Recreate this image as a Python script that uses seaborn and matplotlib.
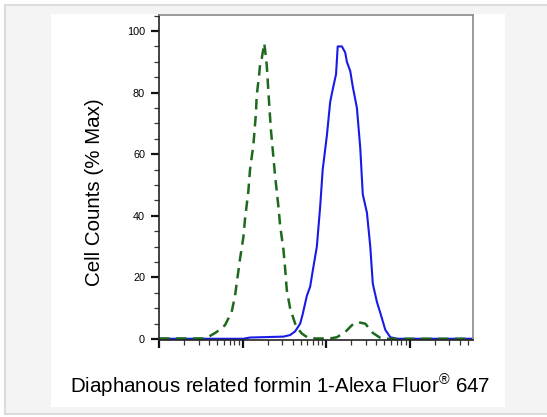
import numpy as np
import pandas as pd
import matplotlib
matplotlib.use("Agg")
import matplotlib.pyplot as plt
import matplotlib.ticker as mticker
from matplotlib.patches import Rectangle
import seaborn as sns

control_log = [1.00, 1.31, 1.55, 1.61, 1.69, 1.79, 1.87, 1.91, 1.95, 1.97,
               2.01, 2.03, 2.07, 2.09, 2.13, 2.16, 2.17, 2.20, 2.21, 2.23,
               2.26, 2.27, 2.29, 2.32, 2.34, 2.37, 2.39, 2.43, 2.45, 2.49,
               2.51, 2.53, 2.57, 2.63, 2.66, 2.71, 2.78, 2.87, 3.05, 3.13,
               3.23, 3.31, 3.38, 3.47, 3.56, 3.65, 3.71, 4.76]
control_pct = [0.2, 0.2, 0.2, 1.0, 2.3, 4.5, 8.8, 14, 22, 26,
               33, 39, 48, 55, 63, 73, 79, 86, 89, 91,
               96, 94, 89, 76, 68, 59, 53, 43, 37, 29,
               23, 16, 10, 5.0, 3.5, 1.8, 0.5, 0.2, 0.2, 0.6,
               2.3, 4.5, 5.5, 5.0, 2.0, 0.4, 0.1, 0.1]

muestra_log = [1.00, 2.01, 2.09, 2.49, 2.57, 2.63, 2.69, 2.72, 2.77, 2.81,
               2.84, 2.89, 2.93, 2.96, 3.01, 3.05, 3.08, 3.12, 3.14, 3.19,
               3.23, 3.25, 3.29, 3.32, 3.37, 3.41, 3.44, 3.49, 3.53, 3.56,
               3.61, 3.65, 3.71, 3.77, 3.85, 4.76]
muestra_pct = [0.1, 0.1, 0.5, 0.8, 1.3, 2.5, 5.0, 8.0, 14, 17,
               22, 30, 43, 55, 66, 77, 81, 86, 95, 95,
               93, 90, 87, 82, 75, 62, 47, 41, 30, 18,
               12, 8.5, 3.0, 0.6, 0.1, 0.1]

y_ticks = [0, 20, 40, 60, 80, 100]

sns.set_style("ticks")
plt.rcParams['font.family'] = ['Liberation Sans', 'DejaVu Sans']
plt.rcParams['mathtext.fontset'] = 'custom'
plt.rcParams['mathtext.rm'] = 'Liberation Sans'
plt.rcParams['mathtext.default'] = 'regular'

fig = plt.figure(figsize=(5.47, 4.17), dpi=100, facecolor='white')

# Marco gris exterior y panel blanco (detras de los ejes)
fig.patches.append(Rectangle((5 / 547, 3 / 417), 560 / 547, 409 / 417,
                             transform=fig.transFigure, facecolor='#f4f4f4',
                             edgecolor='#dcdcdc', linewidth=1.5, zorder=-3))
fig.patches.append(Rectangle((51 / 547, 10 / 417), 454 / 547, 393 / 417,
                             transform=fig.transFigure, facecolor='white',
                             edgecolor='none', zorder=-2))

ax = fig.add_axes([159 / 547, 1 - 340 / 417, 314 / 547, 325 / 417])
ax.set_facecolor('none')

df_ctrl = pd.DataFrame({'x': 10 ** np.array(control_log), 'y': control_pct})
df_mues = pd.DataFrame({'x': 10 ** np.array(muestra_log), 'y': muestra_pct})

sns.lineplot(data=df_mues, x='x', y='y', ax=ax, color='#1a1ae6',
             linewidth=1.5, sort=False, estimator=None)
sns.lineplot(data=df_ctrl, x='x', y='y', ax=ax, color='#1d6a1d',
             linewidth=1.8, linestyle=(0, (4.2, 2.6)), sort=False, estimator=None)

ax.set_xscale('log')
ax.set_xlim(10, 10 ** 4.76)
ax.set_ylim(-0.3, 105.2)

ax.xaxis.set_major_locator(mticker.LogLocator(base=10, numticks=10))
ax.xaxis.set_minor_locator(mticker.LogLocator(base=10, subs=np.arange(2, 10), numticks=50))
ax.xaxis.set_major_formatter(mticker.NullFormatter())
ax.xaxis.set_minor_formatter(mticker.NullFormatter())

ax.set_yticks(y_ticks)
ax.set_yticklabels([str(v) for v in y_ticks], fontsize=7.8, color='black')
ax.yaxis.set_minor_locator(mticker.MultipleLocator(5))

ax.tick_params(axis='both', which='major', direction='out', length=6, width=1.6,
               color='#111111', pad=4)
ax.tick_params(axis='both', which='minor', direction='out', length=3.5, width=0.9,
               color='#333333')

for lado in ['left', 'bottom']:
    ax.spines[lado].set_color('#222222')
    ax.spines[lado].set_linewidth(1.2)
for lado in ['top', 'right']:
    ax.spines[lado].set_color('#8a8a8a')
    ax.spines[lado].set_linewidth(1.2)

ax.set_xlabel('')
ax.set_ylabel('')

fig.text(95 / 547, 1 - 192 / 417, 'Cell Counts (% Max)', rotation=90,
         ha='center', va='center', fontsize=14.8, color='black')
fig.text(280 / 547, 1 - 386 / 417, 'Diaphanous related formin 1-Alexa Fluor$^{®}$ 647',
         ha='center', va='center', fontsize=14.8, color='black')

fig.savefig('out.png', dpi=100, facecolor='white')
